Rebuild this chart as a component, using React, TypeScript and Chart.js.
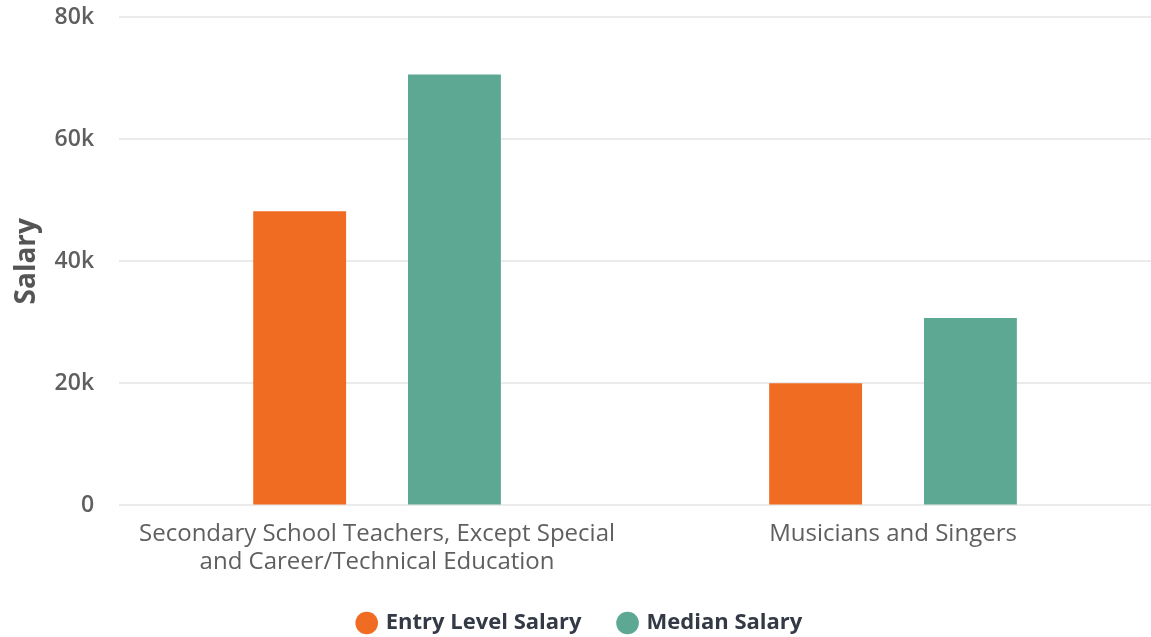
import React, { useEffect, useRef } from "react";
import { Chart, registerables } from "chart.js";

Chart.register(...registerables);

const categories: (string | string[])[] = [
  ["Secondary School Teachers, Except Special", "and Career/Technical Education"],
  "Musicians and Singers",
];
const entryLevel = [48200, 20000];
const median = [70600, 30700];
const seriesNames = ["Entry Level Salary", "Median Salary"];
const seriesColors = ["#f06c22", "#5ca892"];
const yTicks = [0, 20000, 40000, 60000, 80000];

const W = 1151;
const H = 644;

export default function App() {
  const ref = useRef<HTMLCanvasElement | null>(null);
  useEffect(() => {
    if (!ref.current) return;
    const font = "'Open Sans', 'Noto Sans', sans-serif";
    const chart = new Chart(ref.current, {
      type: "bar",
      data: {
        labels: categories,
        datasets: [
          {
            label: seriesNames[0],
            data: entryLevel,
            backgroundColor: seriesColors[0],
            categoryPercentage: 0.6,
            barPercentage: 0.6,
          },
          {
            label: seriesNames[1],
            data: median,
            backgroundColor: seriesColors[1],
            categoryPercentage: 0.6,
            barPercentage: 0.6,
          },
        ],
      },
      options: {
        animation: false,
        responsive: false,
        maintainAspectRatio: false,
        layout: { padding: { top: 0, right: 0, left: 10, bottom: 0 } },
        plugins: {
          tooltip: { enabled: false },
          legend: {
            position: "bottom",
            labels: {
              usePointStyle: true,
              pointStyle: "circle",
              boxWidth: 16,
              boxHeight: 16,
              padding: 38,
              color: "#333a45",
              font: { family: font, size: 22, weight: "bold" },
            },
          },
        },
        scales: {
          x: {
            grid: { display: false, drawTicks: false },
            border: { display: false },
            afterFit: (axis: any) => {
              axis.height -= 17;
              axis.paddingTop = 0;
            },
            ticks: {
              color: "#5f5f5f",
              padding: 14,
              font: { family: font, size: 24 },
              maxRotation: 0,
            },
          },
          y: {
            min: 0,
            max: 80000,
            afterBuildTicks: (axis: any) => {
              axis.ticks = yTicks.map((v) => ({ value: v }));
            },
            afterFit: (axis: any) => {
              axis.width -= 22;
              axis.paddingTop = 17;
            },
            grid: { color: "#ebebeb", lineWidth: 2, drawTicks: false },
            border: { display: false },
            ticks: {
              color: "#5f5f5f",
              padding: 25,
              font: { family: font, size: 23, weight: 600 },
              callback: (v: any) => (Number(v) === 0 ? "0" : Number(v) / 1000 + "k"),
            },
            title: {
              display: true,
              text: "Salary",
              color: "#555555",
              font: { family: font, size: 28, weight: "bold" },
              padding: { top: 0, bottom: 8 },
            },
          },
        },
      },
    });
    return () => chart.destroy();
  }, []);
  return (
    <div style={{ position: "fixed", left: 0, top: 0, width: 1151, height: 637, overflow: "hidden", background: "#fff" }}>
      <canvas ref={ref} width={W} height={H} style={{ width: W, height: H, display: "block" }} />
    </div>
  );
}
